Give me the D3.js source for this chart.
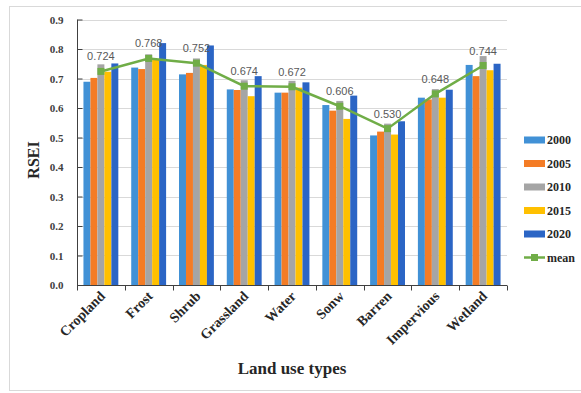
<!DOCTYPE html>
<html>
<head>
<meta charset="utf-8">
<script src="https://cdn.jsdelivr.net/npm/d3@7"></script>
<style>
  html, body { margin: 0; padding: 0; background: #fff; }
  svg { display: block; }
</style>
</head>
<body>
<svg id="chart" width="581" height="393"></svg>
<script>
// Land use categories
const categories = ["Cropland", "Frost", "Shrub", "Grassland", "Water", "Sonw", "Barren", "Impervious", "Wetland"];
const years = ["2000", "2005", "2010", "2015", "2020"];

// RSEI per year, one value per category
const rsei2000 = [0.689, 0.737, 0.714, 0.663, 0.652, 0.610, 0.507, 0.635, 0.746];
const rsei2005 = [0.702, 0.732, 0.719, 0.661, 0.652, 0.591, 0.520, 0.629, 0.708];
const rsei2010 = [0.748, 0.782, 0.768, 0.694, 0.692, 0.624, 0.547, 0.664, 0.776];
const rsei2015 = [0.723, 0.763, 0.746, 0.640, 0.669, 0.563, 0.510, 0.635, 0.728];
const rsei2020 = [0.751, 0.820, 0.812, 0.708, 0.687, 0.642, 0.555, 0.662, 0.750];

// Mean RSEI across the five years
const meanValues = [0.724, 0.768, 0.752, 0.674, 0.672, 0.606, 0.530, 0.648, 0.744];

const yTicks = [0.0, 0.1, 0.2, 0.3, 0.4, 0.5, 0.6, 0.7, 0.8, 0.9];

const seriesValues = [rsei2000, rsei2005, rsei2010, rsei2015, rsei2020];
const colors = ["#4191d6", "#f47c25", "#a5a5a5", "#ffc000", "#2b65c5"];
const meanColor = "#70ad47";

const svg = d3.select("#chart");
const serif = "'Liberation Serif', 'Times New Roman', serif";

// outer frame
svg.append("rect")
  .attr("x", 9.5).attr("y", 6.5)
  .attr("width", 600).attr("height", 384)
  .attr("fill", "none").attr("stroke", "#d9d9d9").attr("stroke-width", 1);

const plot = { left: 77, right: 507, top: 19.5, bottom: 285 };

const x = d3.scaleBand()
  .domain(categories)
  .range([plot.left, plot.right])
  .paddingInner(0.27)
  .paddingOuter(0.135);

const xOuter = d3.scaleBand().domain(categories).range([plot.left, plot.right]);

const xSub = d3.scaleBand().domain(years).range([0, x.bandwidth()]);

const y = d3.scaleLinear().domain([0, 0.9]).range([plot.bottom, plot.top]);

// horizontal grid lines
svg.append("g")
  .selectAll("line")
  .data(yTicks.filter(t => t > 0))
  .join("line")
  .attr("x1", plot.left).attr("x2", plot.right)
  .attr("y1", d => Math.round(y(d)) + 0.5).attr("y2", d => Math.round(y(d)) + 0.5)
  .attr("stroke", "#d9d9d9").attr("stroke-width", 1);

// bars
const rows = categories.map((c, i) => ({ cat: c, vals: years.map((yr, j) => ({ yr, v: seriesValues[j][i], j })) }));

svg.append("g")
  .selectAll("g")
  .data(rows)
  .join("g")
  .attr("transform", d => `translate(${x(d.cat)},0)`)
  .selectAll("rect")
  .data(d => d.vals)
  .join("rect")
  .attr("x", d => xSub(d.yr))
  .attr("width", xSub.bandwidth())
  .attr("y", d => y(d.v))
  .attr("height", d => y(0) - y(d.v))
  .attr("fill", d => colors[d.j]);

// y axis
const yAxis = svg.append("g")
  .attr("transform", `translate(${plot.left + 0.5},0)`)
  .call(d3.axisLeft(y).tickValues(yTicks).tickFormat(d3.format(".1f")).tickSize(-5).tickPadding(14));
yAxis.select(".domain").attr("stroke", "#404040").attr("d", `M0,${y(0.9)}V${y(0)}`);
yAxis.selectAll(".tick line").attr("stroke", "#404040");
yAxis.selectAll(".tick text")
  .attr("font-family", serif).attr("font-weight", "bold")
  .attr("font-size", 11).attr("fill", "#404040");

// x axis
const xAxis = svg.append("g")
  .attr("transform", `translate(0,${plot.bottom + 0.5})`);
xAxis.append("line")
  .attr("x1", plot.left).attr("x2", plot.right)
  .attr("stroke", "#404040").attr("stroke-width", 1);
xAxis.selectAll("line.tk")
  .data(categories.map(c => xOuter(c) + xOuter.bandwidth()).concat([plot.left]))
  .join("line")
  .attr("class", "tk")
  .attr("x1", d => Math.round(d) + 0.5).attr("x2", d => Math.round(d) + 0.5)
  .attr("y1", 0).attr("y2", 5)
  .attr("stroke", "#404040");

// rotated category labels
svg.append("g")
  .selectAll("text")
  .data(categories)
  .join("text")
  .attr("transform", d => `translate(${x(d) + x.bandwidth() / 2 + 5},${plot.bottom + 12}) rotate(-45)`)
  .attr("text-anchor", "end")
  .attr("font-family", serif).attr("font-weight", "bold")
  .attr("font-size", 14).attr("fill", "#262626")
  .text(d => d);

// mean line with square markers
const cx = c => x(c) + x.bandwidth() / 2;
const line = d3.line().x((d, i) => cx(categories[i])).y(d => y(d));
svg.append("path")
  .datum(meanValues)
  .attr("d", line)
  .attr("fill", "none")
  .attr("stroke", meanColor)
  .attr("stroke-width", 2.5);

svg.append("g")
  .selectAll("rect")
  .data(meanValues)
  .join("rect")
  .attr("x", (d, i) => cx(categories[i]) - 3.5)
  .attr("y", d => y(d) - 3.5)
  .attr("width", 7).attr("height", 7)
  .attr("fill", meanColor);

// value labels for the mean
svg.append("g")
  .selectAll("text")
  .data(meanValues)
  .join("text")
  .attr("x", (d, i) => cx(categories[i]))
  .attr("y", d => y(d) - 11)
  .attr("text-anchor", "middle")
  .attr("font-family", "'Liberation Sans', Arial, sans-serif")
  .attr("font-size", 11).attr("fill", "#595959")
  .text(d => d3.format(".3f")(d));

// axis titles
svg.append("text")
  .attr("transform", "translate(39,160) rotate(-90)")
  .attr("text-anchor", "middle")
  .attr("font-family", serif).attr("font-weight", "bold")
  .attr("font-size", 16).attr("fill", "#262626")
  .text("RSEI");

svg.append("text")
  .attr("x", 292).attr("y", 374)
  .attr("text-anchor", "middle")
  .attr("font-family", serif).attr("font-weight", "bold")
  .attr("font-size", 17).attr("fill", "#262626")
  .text("Land use types");

// legend
const legendItems = years.map((yr, j) => ({ label: yr, color: colors[j], type: "bar" }))
  .concat([{ label: "mean", color: meanColor, type: "line" }]);
const lg = svg.append("g")
  .selectAll("g")
  .data(legendItems)
  .join("g")
  .attr("transform", (d, i) => `translate(524,${140 + i * 23.5})`);
lg.filter(d => d.type === "bar").append("rect")
  .attr("x", 0).attr("y", -3.5).attr("width", 21).attr("height", 7)
  .attr("fill", d => d.color);
lg.filter(d => d.type === "line").append("line")
  .attr("x1", 0).attr("x2", 21).attr("y1", 0).attr("y2", 0)
  .attr("stroke", d => d.color).attr("stroke-width", 2.5);
lg.filter(d => d.type === "line").append("rect")
  .attr("x", 7).attr("y", -3.5).attr("width", 7).attr("height", 7)
  .attr("fill", d => d.color);
lg.append("text")
  .attr("x", 23).attr("y", 4)
  .attr("font-family", serif).attr("font-weight", "bold")
  .attr("font-size", 12).attr("fill", "#262626")
  .text(d => d.label);
</script>
</body>
</html>
